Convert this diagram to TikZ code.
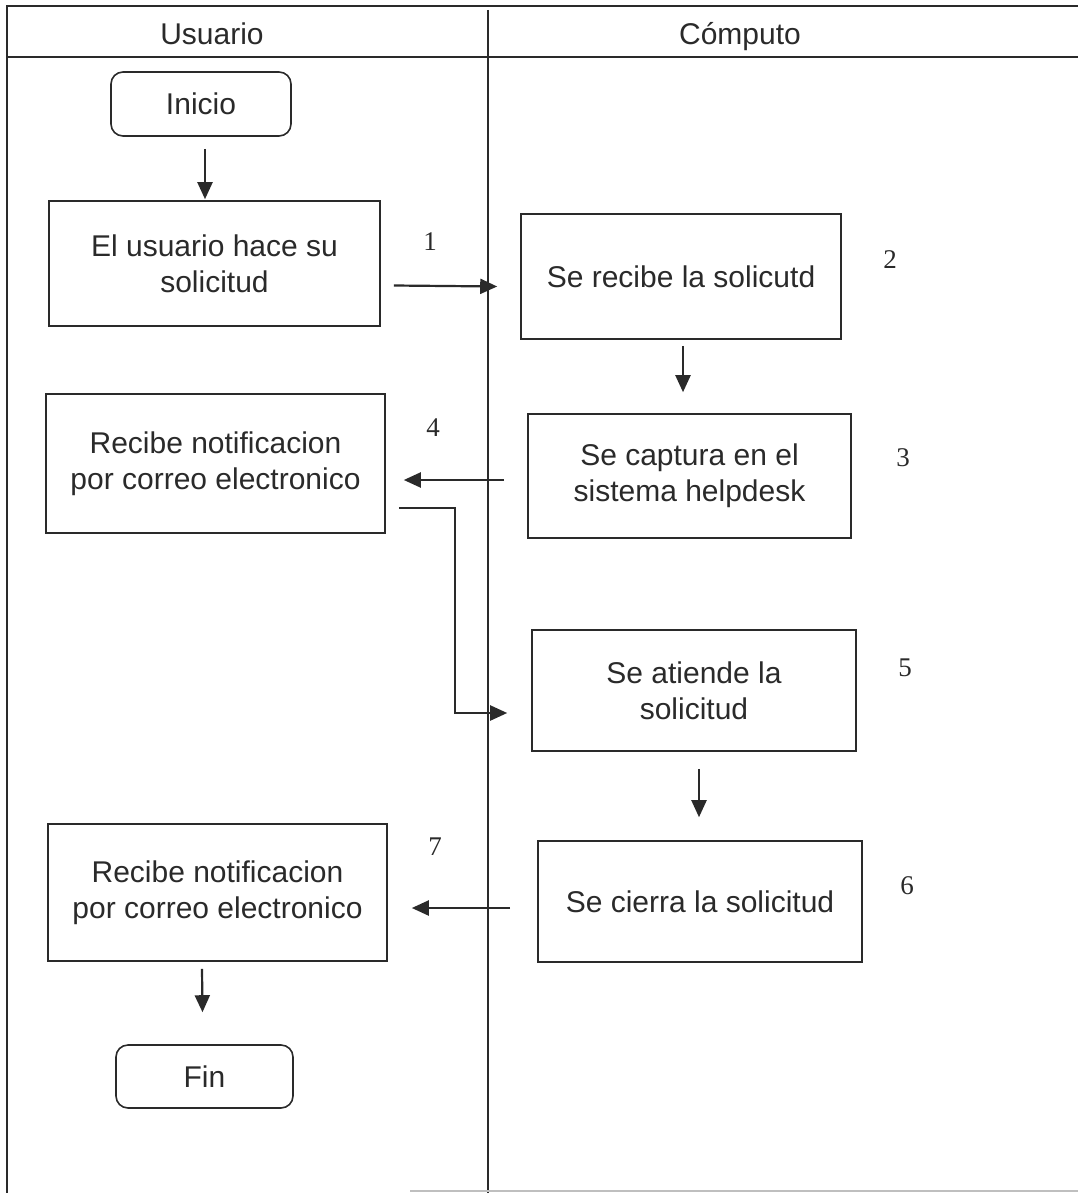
\documentclass[tikz,border=0pt]{standalone}
\usepackage{fontspec}
\setmainfont{Liberation Sans}
\newfontfamily\numfont{Liberation Serif}
\usetikzlibrary{arrows.meta}
\definecolor{ink}{HTML}{2A2A2A}
\tikzset{
  frame/.style={draw=ink, line width=2pt},
  box/.style={draw=ink, line width=1.6pt, align=center, inner sep=0pt,
    font=\fontsize{30}{36}\selectfont, text=ink},
  term/.style={box, rounded corners=12pt},
  hdr/.style={font=\fontsize{30}{36}\selectfont, text=ink, inner sep=0pt, anchor=base},
  num/.style={font=\numfont\fontsize{27}{30}\selectfont, text=ink, inner sep=0pt},
  arr/.style={draw=ink, line width=2.2pt, -{Triangle[length=17pt,width=15pt]}}
}
\begin{document}
\begin{tikzpicture}[x=1pt,y=-1pt]
\useasboundingbox (0,0) rectangle (1078,1193);
% frame
\draw[frame] (7,1193) -- (7,6) -- (1078,6);
\draw[frame] (7,57) -- (1078,57);
\draw[frame] (488,10) -- (488,1193);
\draw[draw=gray!50, line width=1.2pt] (410,1191) -- (1078,1191);
\node[hdr] (hu) at (212,45) {Usuario};
\node[hdr] (hc) at (740,45) {Cómputo};
% nodes
\node[term, minimum width=180, minimum height=64] (ini) at (201,104) {Inicio};
\node[box, minimum width=331, minimum height=125] (usr) at (214.5,263.5) {El usuario hace su\\solicitud};
\node[box, minimum width=320, minimum height=125] (rec) at (681,276.5) {Se recibe la solicutd};
\node[box, minimum width=323, minimum height=124] (cap) at (689.5,476) {Se captura en el\\sistema helpdesk};
\node[box, minimum width=339, minimum height=139] (not1) at (215.5,463.5) {Recibe notificacion\\por correo electronico};
\node[box, minimum width=324, minimum height=121] (ati) at (694,690.5) {Se atiende la\\solicitud};
\node[box, minimum width=324, minimum height=121] (cie) at (700,901.5) {Se cierra la solicitud};
\node[box, minimum width=339, minimum height=137] (not2) at (217.5,892.5) {Recibe notificacion\\por correo electronico};
\node[term, minimum width=177, minimum height=63] (fin) at (204.5,1076.5) {Fin};
% numbers
\node[num] (n1) at (430,242) {1};
\node[num] (n2) at (890,260) {2};
\node[num] (n3) at (903,458) {3};
\node[num] (n4) at (433,428) {4};
\node[num] (n5) at (905,668) {5};
\node[num] (n6) at (907,886) {6};
\node[num] (n7) at (435,847) {7};
% connectors
\draw[arr] ([shift={(4,12)}]ini.south) -- ([shift={(4,-1)}]ini.south |- usr.north);
\draw[arr] ([shift={(13,22)}]usr.east) -- ([shift={(-23,10)}]rec.west);
\draw[arr] ([shift={(2,6)}]rec.south) -- ([shift={(2,-21)}]rec.south |- cap.north);
\draw[arr] ([shift={(-23,4)}]cap.west) -- ([shift={(18,16.5)}]not1.east);
\coordinate (bend1) at (455,508);
\coordinate (bend2) at (455,713);
\draw[arr] ([shift={(13,44.5)}]not1.east) -- (bend1) -- (bend2) -- ([shift={(-24,22.5)}]ati.west);
\draw[arr] ([shift={(5,17)}]ati.south) -- ([shift={(5,-23)}]ati.south |- cie.north);
\draw[arr] ([shift={(-27,6.5)}]cie.west) -- ([shift={(24,15.5)}]not2.east);
\draw[arr] ([shift={(-15.5,7)}]not2.south) -- ([shift={(-2,-32)}]fin.north);
\end{tikzpicture}
\end{document}
